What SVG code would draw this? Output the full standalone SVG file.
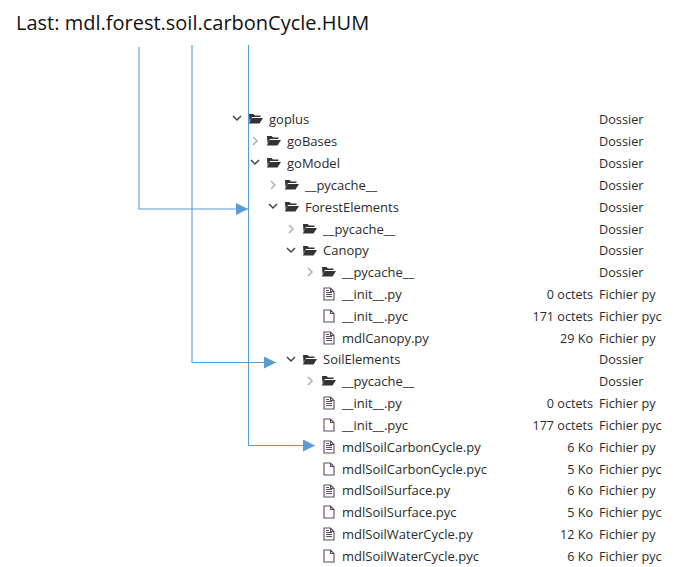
<svg xmlns="http://www.w3.org/2000/svg" width="678" height="567" viewBox="0 0 678 567">
<style>
text{font-family:"Open Sans","Noto Sans","Liberation Sans",sans-serif;fill:#2b2b2b;font-size:13px}
.t{font-size:20px;fill:#111}
.s{text-anchor:end;font-size:12.600px}
.k{font-size:12.700px}
.c{fill:none;stroke-width:1.5}
.o{stroke:#444}.x{stroke:#b0b0b0}
.l{fill:none;stroke:#5b9bd5;stroke-width:1.1}
</style>
<defs>
<marker id="a" markerUnits="userSpaceOnUse" markerWidth="12" markerHeight="12" refX="12" refY="6" orient="auto"><path d="M0 0L12 6L0 12Z" fill="#5b9bd5"/></marker>
<g id="dir"><path d="M-7-5h4.500l1.500 1.500h5.500v1.500h-8.500l-2.500 4.500z" fill="#333"/><path d="M-4.500-1H7L3.500 4.500H-7.200z" fill="#333"/></g>
<g id="open"><path class="c o" d="M-4-2l4 4l4-4"/></g>
<g id="shut"><path class="c x" d="M-2-4l4 4l-4 4"/></g>
<g id="pyc"><path d="M-5-6h6.500l3.500 3.500v8.500h-10z M1.500-6v3.500h3.500" fill="#fff" stroke="#5a4a66" stroke-width="1.100"/></g>
<g id="py"><use href="#pyc"/><path d="M-3-1.500h6M-3 .5h6M-3 2.500h6M-3-3.500h3" stroke="#555" stroke-width="1"/></g>
</defs>
<text class="t" x="16" y="30">Last: mdl.forest.soil.carbonCycle.HUM</text>
<g id="connectors">
<path class="l" d="M139 47V209H248" marker-end="url(#a)"/>
<path class="l" d="M192 45V362.500H276" marker-end="url(#a)"/>
<path class="l" d="M248.500 45V445.500H315" marker-end="url(#a)"/>
</g>
<g id="n1"><use href="#open" x="237" y="118"/><use href="#dir" x="256" y="119"/><text x="269" y="124">goplus</text><text class="k" x="599" y="124">Dossier</text></g>
<g id="n2"><use href="#shut" x="255" y="141"/><use href="#dir" x="274" y="141"/><text x="287" y="146">goBases</text><text class="k" x="599" y="146">Dossier</text></g>
<g id="n3"><use href="#open" x="255" y="162"/><use href="#dir" x="274" y="163"/><text x="287" y="168">goModel</text><text class="k" x="599" y="168">Dossier</text></g>
<g id="n4"><use href="#shut" x="273" y="185"/><use href="#dir" x="292" y="185"/><text x="305" y="190">__pycache__</text><text class="k" x="599" y="190">Dossier</text></g>
<g id="n5"><use href="#open" x="273" y="206"/><use href="#dir" x="292" y="207"/><text x="305" y="212">ForestElements</text><text class="k" x="599" y="212">Dossier</text></g>
<g id="n6"><use href="#shut" x="291" y="229"/><use href="#dir" x="310" y="229"/><text x="323" y="234">__pycache__</text><text class="k" x="599" y="234">Dossier</text></g>
<g id="n7"><use href="#open" x="291" y="250"/><use href="#dir" x="310" y="251"/><text x="323" y="255">Canopy</text><text class="k" x="599" y="255">Dossier</text></g>
<g id="n8"><use href="#shut" x="310" y="272"/><use href="#dir" x="329" y="272"/><text x="342" y="277">__pycache__</text><text class="k" x="599" y="277">Dossier</text></g>
<g id="n9"><use href="#py" x="329" y="294"/><text x="342" y="299">__init__.py</text><text class="s" x="593" y="299">0 octets</text><text class="k" x="599" y="299">Fichier py</text></g>
<g id="n10"><use href="#pyc" x="329" y="316"/><text x="342" y="321">__init__.pyc</text><text class="s" x="593" y="321">171 octets</text><text class="k" x="599" y="321">Fichier pyc</text></g>
<g id="n11"><use href="#py" x="329" y="338"/><text x="342" y="343">mdlCanopy.py</text><text class="s" x="593" y="343">29 Ko</text><text class="k" x="599" y="343">Fichier py</text></g>
<g id="n12"><use href="#open" x="291" y="359"/><use href="#dir" x="310" y="360"/><text x="323" y="364">SoilElements</text><text class="k" x="599" y="364">Dossier</text></g>
<g id="n13"><use href="#shut" x="310" y="381"/><use href="#dir" x="329" y="381"/><text x="342" y="386">__pycache__</text><text class="k" x="599" y="386">Dossier</text></g>
<g id="n14"><use href="#py" x="329" y="403"/><text x="342" y="408">__init__.py</text><text class="s" x="593" y="408">0 octets</text><text class="k" x="599" y="408">Fichier py</text></g>
<g id="n15"><use href="#pyc" x="329" y="425"/><text x="342" y="430">__init__.pyc</text><text class="s" x="593" y="430">177 octets</text><text class="k" x="599" y="430">Fichier pyc</text></g>
<g id="n16"><use href="#py" x="329" y="447"/><text x="342" y="452">mdlSoilCarbonCycle.py</text><text class="s" x="593" y="452">6 Ko</text><text class="k" x="599" y="452">Fichier py</text></g>
<g id="n17"><use href="#pyc" x="329" y="469"/><text x="342" y="474">mdlSoilCarbonCycle.pyc</text><text class="s" x="593" y="474">5 Ko</text><text class="k" x="599" y="474">Fichier pyc</text></g>
<g id="n18"><use href="#py" x="329" y="491"/><text x="342" y="495">mdlSoilSurface.py</text><text class="s" x="593" y="495">6 Ko</text><text class="k" x="599" y="495">Fichier py</text></g>
<g id="n19"><use href="#pyc" x="329" y="512"/><text x="342" y="517">mdlSoilSurface.pyc</text><text class="s" x="593" y="517">5 Ko</text><text class="k" x="599" y="517">Fichier pyc</text></g>
<g id="n20"><use href="#py" x="329" y="534"/><text x="342" y="539">mdlSoilWaterCycle.py</text><text class="s" x="593" y="539">12 Ko</text><text class="k" x="599" y="539">Fichier py</text></g>
<g id="n21"><use href="#pyc" x="329" y="556"/><text x="342" y="561">mdlSoilWaterCycle.pyc</text><text class="s" x="593" y="561">6 Ko</text><text class="k" x="599" y="561">Fichier pyc</text></g>
</svg>
